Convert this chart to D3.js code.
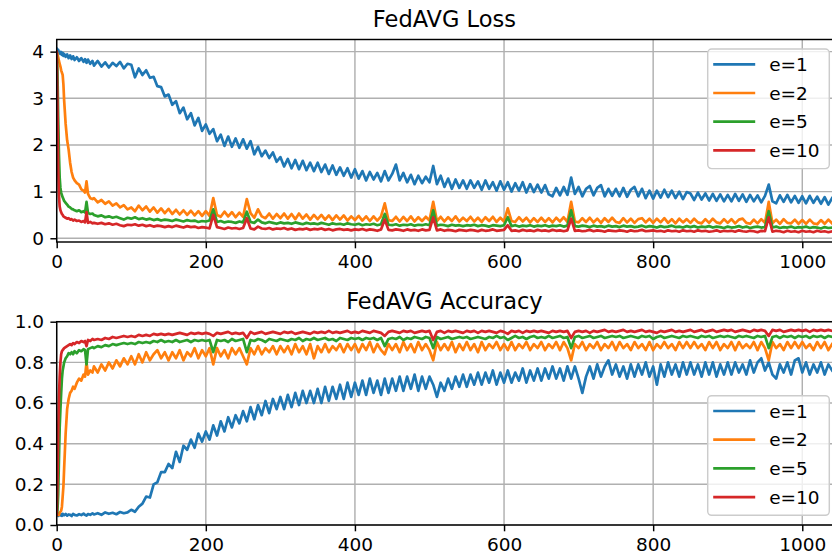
<!DOCTYPE html>
<html>
<head>
<meta charset="utf-8">
<script src="https://cdnjs.cloudflare.com/ajax/libs/d3/7.8.5/d3.min.js"></script>
<style>
    body { margin: 0; background: #ffffff; }
    svg { display: block; font-family: "DejaVu Sans", sans-serif; }
</style>
</head>
<body>
<div class="chart-wrapper"></div>
<script>
// rounds: dense at the start, then every 5th round
var roundsEarly = [0, 1, 2, 3, 4, 5, 6, 7, 8, 9, 10, 12, 14, 16, 18, 20, 22, 24, 27, 30, 33, 36, 38, 40, 42, 45, 48];
var rounds = roundsEarly.concat(d3.range(50, 1041, 5));

var seriesNames = ["e=1", "e=2", "e=5", "e=10"];
var seriesColors = ["#1f77b4", "#ff7f0e", "#2ca02c", "#d62728"];

var xTicks = [0, 200, 400, 600, 800, 1000];
var lossTicks = [0, 1, 2, 3, 4];
var accTicks = [0, 0.2, 0.4, 0.6, 0.8, 1.0];

// ---------------- loss ----------------
var lossE1 = [
    4.06, 4.02, 4.04, 3.97, 4.00, 3.95, 3.99, 3.93, 3.97, 3.91, 3.95, 3.89, 3.94, 3.86, 3.92, 3.84, 3.90, 3.82, 3.88, 3.80, 3.86, 3.78, 3.84, 3.76, 3.83, 3.74, 3.80,
    3.70, 3.80, 3.68, 3.77, 3.66, 3.76, 3.69, 3.78, 3.64, 3.74,
    3.72, 3.45, 3.64, 3.50, 3.60, 3.44, 3.46, 3.26, 3.24, 3.04,
    3.08, 2.86, 2.94, 2.68, 2.80, 2.55, 2.68, 2.42, 2.58, 2.30,
    2.44, 2.24, 2.34, 2.08, 2.22, 1.98, 2.18, 1.96, 2.14, 1.94,
    2.12, 1.92, 2.08, 1.80, 1.96, 1.76, 1.88, 1.72, 1.84, 1.64,
    1.74, 1.54, 1.70, 1.50, 1.68, 1.48, 1.66, 1.46, 1.62, 1.44,
    1.62, 1.42, 1.58, 1.38, 1.56, 1.36, 1.52, 1.34, 1.50, 1.30,
    1.48, 1.28, 1.44, 1.24, 1.42, 1.26, 1.40, 1.22, 1.44, 1.24,
    1.38, 1.58, 1.24, 1.40, 1.20, 1.36, 1.16, 1.34, 1.18, 1.32,
    1.20, 1.55, 1.16, 1.34, 1.10, 1.28, 1.06, 1.26, 1.08, 1.24,
    1.06, 1.24, 1.08, 1.22, 1.04, 1.24, 1.06, 1.20, 1.02, 1.22,
    1.04, 1.20, 1.00, 1.18, 1.02, 1.20, 0.98, 1.16, 0.99, 1.15,
    0.98, 1.14, 0.94, 0.90, 1.08, 0.92, 1.10, 0.93, 1.30, 0.95,
    1.10, 0.90, 1.06, 1.12, 0.92, 1.08, 1.14, 0.90, 1.06, 0.91,
    1.06, 0.90, 1.08, 0.89, 1.04, 1.10, 0.90, 1.06, 0.86, 1.02,
    0.85, 1.02, 0.87, 1.04, 0.88, 1.02, 0.86, 1.00, 0.84, 0.99,
    0.96, 0.82, 0.98, 0.83, 0.96, 0.81, 0.95, 0.80, 0.94, 0.79,
    0.93, 0.79, 0.95, 0.80, 0.94, 0.78, 0.93, 0.79, 0.92, 0.77,
    0.91, 1.15, 0.79, 0.75, 0.92, 0.78, 0.93, 0.77, 0.91, 0.76,
    0.90, 0.75, 0.91, 0.76, 0.89, 0.74, 0.88, 0.72, 0.86
];
var lossE2 = [
    4.00, 3.95, 3.88, 3.80, 3.74, 3.68, 3.60, 3.55, 3.50, 3.30, 2.95, 2.45, 2.10, 1.90, 1.62, 1.42, 1.30, 1.24, 1.18, 1.15, 1.05, 1.02, 0.98, 1.22, 0.95, 0.86, 0.84,
    0.86, 0.77, 0.82, 0.74, 0.79, 0.70, 0.75, 0.66, 0.71, 0.62,
    0.66, 0.58, 0.70, 0.60, 0.68, 0.57, 0.66, 0.55, 0.64, 0.54,
    0.63, 0.52, 0.61, 0.51, 0.60, 0.50, 0.59, 0.49, 0.58, 0.48,
    0.58, 0.48, 0.86, 0.50, 0.46, 0.57, 0.47, 0.56, 0.45, 0.55,
    0.46, 0.84, 0.54, 0.44, 0.62, 0.47, 0.43, 0.53, 0.42, 0.52,
    0.43, 0.53, 0.42, 0.52, 0.41, 0.53, 0.42, 0.51, 0.40, 0.50,
    0.41, 0.50, 0.40, 0.49, 0.39, 0.49, 0.40, 0.49, 0.38, 0.47,
    0.39, 0.48, 0.38, 0.47, 0.37, 0.47, 0.38, 0.47, 0.75, 0.39,
    0.37, 0.46, 0.36, 0.46, 0.37, 0.47, 0.36, 0.45, 0.37, 0.46,
    0.38, 0.78, 0.37, 0.46, 0.36, 0.45, 0.37, 0.47, 0.36, 0.44,
    0.37, 0.46, 0.36, 0.44, 0.35, 0.45, 0.37, 0.46, 0.35, 0.44,
    0.36, 0.64, 0.37, 0.35, 0.45, 0.36, 0.44, 0.34, 0.43, 0.35,
    0.44, 0.35, 0.43, 0.34, 0.44, 0.36, 0.45, 0.35, 0.78, 0.36,
    0.34, 0.43, 0.35, 0.44, 0.34, 0.42, 0.33, 0.43, 0.35, 0.44,
    0.35, 0.33, 0.43, 0.34, 0.42, 0.33, 0.41, 0.43, 0.34, 0.42,
    0.33, 0.42, 0.34, 0.43, 0.33, 0.41, 0.32, 0.42, 0.34, 0.41,
    0.33, 0.42, 0.34, 0.32, 0.41, 0.33, 0.42, 0.34, 0.32, 0.41,
    0.33, 0.41, 0.32, 0.40, 0.42, 0.33, 0.31, 0.40, 0.32, 0.41,
    0.33, 0.78, 0.32, 0.40, 0.31, 0.41, 0.33, 0.32, 0.40, 0.31,
    0.39, 0.31, 0.40, 0.32, 0.30, 0.39, 0.31, 0.40, 0.32
];
var lossE5 = [
    4.00, 3.60, 2.60, 1.80, 1.30, 1.08, 0.98, 0.92, 0.88, 0.84, 0.80, 0.76, 0.72, 0.68, 0.66, 0.63, 0.62, 0.60, 0.58, 0.60, 0.56, 0.58, 0.55, 0.78, 0.54, 0.52, 0.53,
    0.50, 0.47, 0.49, 0.45, 0.47, 0.44, 0.46, 0.43, 0.40, 0.44,
    0.42, 0.45, 0.41, 0.43, 0.40, 0.42, 0.39, 0.41, 0.38, 0.40,
    0.39, 0.37, 0.40, 0.38, 0.36, 0.39, 0.37, 0.38, 0.35, 0.37,
    0.36, 0.38, 0.62, 0.35, 0.37, 0.34, 0.36, 0.35, 0.33, 0.36,
    0.34, 0.57, 0.35, 0.33, 0.40, 0.34, 0.32, 0.35, 0.33, 0.31,
    0.34, 0.32, 0.33, 0.31, 0.34, 0.32, 0.30, 0.33, 0.31, 0.32,
    0.30, 0.33, 0.31, 0.29, 0.32, 0.30, 0.31, 0.29, 0.32, 0.30,
    0.29, 0.31, 0.28, 0.30, 0.29, 0.31, 0.28, 0.30, 0.52, 0.29,
    0.28, 0.30, 0.27, 0.29, 0.28, 0.30, 0.27, 0.29, 0.28, 0.30,
    0.28, 0.60, 0.27, 0.29, 0.28, 0.26, 0.29, 0.27, 0.28, 0.26,
    0.28, 0.27, 0.29, 0.26, 0.28, 0.27, 0.25, 0.28, 0.27, 0.26,
    0.28, 0.45, 0.26, 0.28, 0.25, 0.27, 0.26, 0.28, 0.25, 0.27,
    0.26, 0.28, 0.25, 0.27, 0.26, 0.28, 0.25, 0.27, 0.60, 0.26,
    0.25, 0.27, 0.26, 0.24, 0.27, 0.25, 0.26, 0.24, 0.27, 0.25,
    0.26, 0.24, 0.27, 0.25, 0.26, 0.24, 0.25, 0.27, 0.24, 0.26,
    0.25, 0.23, 0.26, 0.24, 0.25, 0.27, 0.24, 0.25, 0.23, 0.26,
    0.24, 0.26, 0.23, 0.25, 0.24, 0.26, 0.23, 0.25, 0.24, 0.22,
    0.25, 0.23, 0.24, 0.26, 0.23, 0.25, 0.22, 0.24, 0.25, 0.23,
    0.24, 0.58, 0.23, 0.25, 0.22, 0.24, 0.23, 0.25, 0.22, 0.24,
    0.23, 0.25, 0.22, 0.24, 0.23, 0.21, 0.24, 0.22, 0.23
];
var lossE10 = [
    4.00, 2.90, 1.50, 0.92, 0.68, 0.60, 0.56, 0.52, 0.50, 0.47, 0.46, 0.44, 0.42, 0.43, 0.40, 0.41, 0.38, 0.40, 0.37, 0.38, 0.35, 0.37, 0.34, 0.56, 0.33, 0.35, 0.32,
    0.33, 0.31, 0.33, 0.30, 0.32, 0.29, 0.31, 0.28, 0.26, 0.29,
    0.28, 0.30, 0.27, 0.29, 0.26, 0.28, 0.25, 0.27, 0.26, 0.24,
    0.26, 0.24, 0.27, 0.25, 0.23, 0.26, 0.24, 0.25, 0.22, 0.24,
    0.23, 0.21, 0.50, 0.24, 0.22, 0.20, 0.23, 0.21, 0.22, 0.20,
    0.22, 0.43, 0.21, 0.19, 0.25, 0.21, 0.20, 0.22, 0.19, 0.21,
    0.20, 0.22, 0.19, 0.21, 0.18, 0.20, 0.19, 0.21, 0.18, 0.20,
    0.19, 0.21, 0.18, 0.20, 0.17, 0.19, 0.20, 0.18, 0.19, 0.17,
    0.19, 0.18, 0.20, 0.17, 0.19, 0.18, 0.16, 0.19, 0.40, 0.18,
    0.17, 0.19, 0.18, 0.16, 0.19, 0.17, 0.18, 0.16, 0.19, 0.17,
    0.18, 0.45, 0.17, 0.19, 0.16, 0.18, 0.17, 0.15, 0.18, 0.17,
    0.16, 0.18, 0.17, 0.15, 0.18, 0.16, 0.17, 0.19, 0.16, 0.17,
    0.18, 0.28, 0.16, 0.17, 0.15, 0.18, 0.16, 0.17, 0.15, 0.18,
    0.16, 0.17, 0.15, 0.18, 0.16, 0.17, 0.15, 0.17, 0.42, 0.16,
    0.17, 0.15, 0.16, 0.18, 0.15, 0.17, 0.16, 0.14, 0.17, 0.16,
    0.15, 0.17, 0.16, 0.14, 0.17, 0.15, 0.16, 0.18, 0.15, 0.16,
    0.17, 0.15, 0.16, 0.14, 0.17, 0.15, 0.16, 0.14, 0.17, 0.15,
    0.16, 0.14, 0.17, 0.15, 0.16, 0.14, 0.15, 0.17, 0.14, 0.16,
    0.15, 0.16, 0.14, 0.17, 0.15, 0.14, 0.16, 0.15, 0.13, 0.16,
    0.15, 0.45, 0.14, 0.16, 0.15, 0.13, 0.16, 0.14, 0.15, 0.13,
    0.16, 0.14, 0.15, 0.13, 0.16, 0.14, 0.15, 0.13, 0.15
];

// ---------------- accuracy ----------------
var accE1 = [
    0.050, 0.050, 0.045, 0.055, 0.050, 0.048, 0.052, 0.045, 0.055, 0.050, 0.048, 0.054, 0.046, 0.052, 0.050, 0.044, 0.055, 0.050, 0.047, 0.053, 0.049, 0.056, 0.050, 0.046, 0.054, 0.050, 0.057,
    0.052, 0.058, 0.050, 0.062, 0.055, 0.060, 0.053, 0.064, 0.058, 0.062,
    0.075, 0.065, 0.090, 0.105, 0.140, 0.135, 0.200, 0.210, 0.260, 0.260,
    0.30, 0.28, 0.36, 0.31, 0.39, 0.37, 0.42, 0.38, 0.45, 0.41,
    0.46, 0.42, 0.49, 0.44, 0.51, 0.46, 0.53, 0.48, 0.54, 0.50,
    0.56, 0.51, 0.58, 0.52, 0.59, 0.54, 0.61, 0.55, 0.62, 0.57,
    0.63, 0.57, 0.64, 0.58, 0.65, 0.59, 0.66, 0.60, 0.66, 0.60,
    0.67, 0.60, 0.68, 0.61, 0.68, 0.62, 0.69, 0.62, 0.70, 0.63,
    0.70, 0.64, 0.71, 0.64, 0.72, 0.65, 0.71, 0.64, 0.72, 0.65,
    0.72, 0.66, 0.73, 0.66, 0.73, 0.67, 0.74, 0.66, 0.73, 0.67,
    0.73, 0.69, 0.63, 0.70, 0.66, 0.72, 0.67, 0.73, 0.68, 0.74,
    0.68, 0.74, 0.69, 0.75, 0.69, 0.75, 0.70, 0.76, 0.69, 0.75,
    0.70, 0.76, 0.70, 0.75, 0.71, 0.77, 0.70, 0.76, 0.71, 0.77,
    0.71, 0.77, 0.72, 0.78, 0.72, 0.77, 0.71, 0.78, 0.72, 0.78,
    0.72, 0.65, 0.73, 0.78, 0.72, 0.79, 0.73, 0.78, 0.81, 0.74,
    0.79, 0.73, 0.78, 0.72, 0.79, 0.73, 0.79, 0.74, 0.80, 0.73,
    0.78, 0.69, 0.79, 0.73, 0.80, 0.74, 0.79, 0.73, 0.80, 0.74,
    0.80, 0.74, 0.79, 0.73, 0.80, 0.74, 0.80, 0.73, 0.79, 0.74,
    0.80, 0.74, 0.80, 0.75, 0.79, 0.74, 0.81, 0.75, 0.80, 0.82,
    0.76, 0.80, 0.74, 0.72, 0.79, 0.75, 0.80, 0.74, 0.81, 0.82,
    0.75, 0.80, 0.74, 0.79, 0.75, 0.80, 0.74, 0.79, 0.76
];
var accE2 = [
    0.050, 0.050, 0.055, 0.050, 0.060, 0.065, 0.070, 0.090, 0.140, 0.190, 0.280, 0.450, 0.570, 0.620, 0.650, 0.660, 0.680, 0.670, 0.700, 0.720, 0.710, 0.740, 0.730, 0.800, 0.740, 0.760, 0.750,
    0.78, 0.75, 0.79, 0.76, 0.80, 0.77, 0.81, 0.78, 0.82, 0.79,
    0.83, 0.79, 0.84, 0.80, 0.85, 0.81, 0.84, 0.86, 0.82, 0.85,
    0.81, 0.85, 0.82, 0.86, 0.81, 0.85, 0.83, 0.87, 0.82, 0.86,
    0.83, 0.87, 0.79, 0.87, 0.83, 0.86, 0.82, 0.87, 0.84, 0.87,
    0.83, 0.79, 0.87, 0.84, 0.88, 0.84, 0.87, 0.85, 0.88, 0.84,
    0.88, 0.85, 0.88, 0.84, 0.89, 0.85, 0.88, 0.84, 0.89, 0.82,
    0.88, 0.85, 0.89, 0.85, 0.88, 0.86, 0.89, 0.85, 0.89, 0.86,
    0.89, 0.85, 0.89, 0.86, 0.90, 0.85, 0.89, 0.86, 0.84, 0.89,
    0.86, 0.89, 0.85, 0.90, 0.86, 0.89, 0.85, 0.90, 0.86, 0.89,
    0.86, 0.81, 0.90, 0.86, 0.89, 0.86, 0.90, 0.85, 0.89, 0.86,
    0.90, 0.86, 0.89, 0.85, 0.90, 0.86, 0.89, 0.87, 0.90, 0.86,
    0.89, 0.86, 0.90, 0.86, 0.89, 0.87, 0.90, 0.86, 0.89, 0.87,
    0.90, 0.86, 0.89, 0.87, 0.90, 0.86, 0.90, 0.87, 0.81, 0.89,
    0.87, 0.90, 0.86, 0.89, 0.87, 0.90, 0.86, 0.89, 0.87, 0.90,
    0.86, 0.90, 0.87, 0.89, 0.86, 0.90, 0.87, 0.89, 0.86, 0.90,
    0.86, 0.89, 0.87, 0.90, 0.87, 0.89, 0.86, 0.90, 0.87, 0.90,
    0.87, 0.90, 0.87, 0.89, 0.86, 0.90, 0.87, 0.90, 0.86, 0.89,
    0.87, 0.90, 0.86, 0.90, 0.87, 0.89, 0.87, 0.90, 0.86, 0.90,
    0.87, 0.81, 0.90, 0.87, 0.89, 0.86, 0.90, 0.87, 0.90, 0.87,
    0.90, 0.87, 0.89, 0.86, 0.90, 0.87, 0.90, 0.86, 0.89
];
var accE5 = [
    0.050, 0.070, 0.150, 0.320, 0.480, 0.570, 0.650, 0.720, 0.760, 0.780, 0.800, 0.820, 0.830, 0.845, 0.840, 0.850, 0.840, 0.855, 0.845, 0.860, 0.855, 0.865, 0.860, 0.790, 0.865, 0.870, 0.875,
    0.870, 0.880, 0.875, 0.885, 0.880, 0.890, 0.885, 0.890, 0.895, 0.890,
    0.895, 0.890, 0.900, 0.895, 0.900, 0.895, 0.905, 0.900, 0.910, 0.900,
    0.905, 0.900, 0.910, 0.900, 0.905, 0.910, 0.900, 0.910, 0.905, 0.910,
    0.905, 0.910, 0.850, 0.910, 0.905, 0.910, 0.900, 0.915, 0.905, 0.910,
    0.915, 0.850, 0.910, 0.905, 0.915, 0.910, 0.900, 0.915, 0.910, 0.905,
    0.915, 0.910, 0.905, 0.915, 0.910, 0.920, 0.905, 0.915, 0.910, 0.920,
    0.910, 0.915, 0.920, 0.910, 0.915, 0.905, 0.920, 0.915, 0.910, 0.920,
    0.915, 0.920, 0.910, 0.920, 0.915, 0.920, 0.910, 0.920, 0.880, 0.915,
    0.920, 0.915, 0.925, 0.910, 0.920, 0.915, 0.925, 0.920, 0.915, 0.925,
    0.920, 0.870, 0.925, 0.915, 0.920, 0.925, 0.915, 0.920, 0.925, 0.920,
    0.925, 0.915, 0.920, 0.925, 0.920, 0.915, 0.925, 0.920, 0.930, 0.920,
    0.925, 0.910, 0.920, 0.930, 0.920, 0.925, 0.915, 0.925, 0.930, 0.920,
    0.925, 0.920, 0.930, 0.920, 0.925, 0.930, 0.920, 0.925, 0.870, 0.925,
    0.930, 0.920, 0.925, 0.930, 0.920, 0.925, 0.930, 0.920, 0.925, 0.930,
    0.925, 0.930, 0.920, 0.925, 0.930, 0.925, 0.920, 0.930, 0.925, 0.930,
    0.915, 0.925, 0.930, 0.920, 0.925, 0.930, 0.925, 0.920, 0.930, 0.925,
    0.930, 0.925, 0.920, 0.930, 0.925, 0.930, 0.920, 0.925, 0.930, 0.925,
    0.930, 0.925, 0.920, 0.930, 0.925, 0.930, 0.925, 0.920, 0.930, 0.925,
    0.930, 0.870, 0.925, 0.930, 0.920, 0.930, 0.925, 0.930, 0.920, 0.930,
    0.925, 0.930, 0.920, 0.930, 0.925, 0.930, 0.920, 0.930, 0.925
];
var accE10 = [
    0.050, 0.200, 0.450, 0.630, 0.730, 0.800, 0.840, 0.855, 0.860, 0.865, 0.870, 0.875, 0.880, 0.885, 0.890, 0.885, 0.895, 0.890, 0.900, 0.895, 0.905, 0.900, 0.905, 0.880, 0.910, 0.905, 0.915,
    0.910, 0.915, 0.910, 0.920, 0.915, 0.925, 0.920, 0.925, 0.930, 0.925,
    0.930, 0.925, 0.935, 0.930, 0.935, 0.930, 0.940, 0.935, 0.940, 0.935,
    0.940, 0.935, 0.940, 0.945, 0.940, 0.935, 0.945, 0.940, 0.945, 0.940,
    0.945, 0.940, 0.930, 0.945, 0.940, 0.945, 0.950, 0.940, 0.945, 0.940,
    0.945, 0.920, 0.950, 0.940, 0.945, 0.950, 0.940, 0.945, 0.950, 0.945,
    0.940, 0.950, 0.945, 0.950, 0.940, 0.945, 0.950, 0.945, 0.940, 0.950,
    0.945, 0.950, 0.945, 0.955, 0.945, 0.950, 0.945, 0.950, 0.955, 0.945,
    0.950, 0.945, 0.955, 0.950, 0.945, 0.955, 0.950, 0.945, 0.930, 0.950,
    0.955, 0.950, 0.945, 0.955, 0.950, 0.955, 0.945, 0.950, 0.955, 0.950,
    0.955, 0.910, 0.950, 0.955, 0.945, 0.955, 0.950, 0.955, 0.950, 0.945,
    0.955, 0.950, 0.955, 0.945, 0.955, 0.950, 0.955, 0.950, 0.945, 0.955,
    0.950, 0.940, 0.955, 0.950, 0.955, 0.945, 0.955, 0.950, 0.955, 0.950,
    0.955, 0.950, 0.945, 0.955, 0.950, 0.955, 0.950, 0.955, 0.920, 0.950,
    0.955, 0.950, 0.955, 0.945, 0.955, 0.950, 0.955, 0.960, 0.950, 0.955,
    0.950, 0.955, 0.960, 0.950, 0.955, 0.950, 0.955, 0.960, 0.950, 0.955,
    0.950, 0.945, 0.955, 0.950, 0.955, 0.960, 0.950, 0.955, 0.950, 0.955,
    0.960, 0.950, 0.955, 0.960, 0.950, 0.955, 0.960, 0.950, 0.955, 0.960,
    0.955, 0.960, 0.950, 0.955, 0.960, 0.955, 0.950, 0.960, 0.955, 0.960,
    0.955, 0.930, 0.960, 0.955, 0.960, 0.950, 0.955, 0.960, 0.955, 0.960,
    0.955, 0.960, 0.950, 0.960, 0.955, 0.960, 0.955, 0.960, 0.955
];

var lossSeries = [lossE1, lossE2, lossE5, lossE10];
var accSeries = [accE1, accE2, accE5, accE10];

//------------------------------------------------------------------
var svgWidth = 832, svgHeight = 559;
var tickFont = 18.5, titleFont = 22.5;
var tickLen = 6.3, tickPad = 6.3;
var spineW = 1.45, lineW = 2.7;

var svg = d3.select(".chart-wrapper").append("svg")
        .attr("width", svgWidth)
        .attr("height", svgHeight);

var defs = svg.append("defs");

var x = d3.scaleLinear().domain([0, 1040]).range([56.7, 832.1]);

function drawPanel(opts) {
    var y = d3.scaleLinear().domain(opts.yDomain).range([opts.bottom, opts.top]);
    var g = svg.append("g").attr("class", "panel-" + opts.id);

    defs.append("clipPath").attr("id", "clip-" + opts.id)
            .append("rect")
            .attr("x", x.range()[0])
            .attr("y", opts.top)
            .attr("width", x.range()[1] - x.range()[0])
            .attr("height", opts.bottom - opts.top);

    // grid
    g.append("g").selectAll("line.gx").data(xTicks).enter().append("line")
            .attr("x1", function (d) { return x(d); })
            .attr("x2", function (d) { return x(d); })
            .attr("y1", opts.top).attr("y2", opts.bottom)
            .style("stroke", "#b0b0b0").style("stroke-width", 1.45);
    g.append("g").selectAll("line.gy").data(opts.yTicks).enter().append("line")
            .attr("x1", x.range()[0]).attr("x2", x.range()[1])
            .attr("y1", function (d) { return y(d); })
            .attr("y2", function (d) { return y(d); })
            .style("stroke", "#b0b0b0").style("stroke-width", 1.45);

    // lines
    var line = d3.line()
            .x(function (d, i) { return x(rounds[i]); })
            .y(function (d) { return y(d); });
    g.append("g").attr("clip-path", "url(#clip-" + opts.id + ")")
            .selectAll("path").data(opts.series).enter().append("path")
            .attr("d", line)
            .style("fill", "none")
            .style("stroke", function (d, i) { return seriesColors[i]; })
            .style("stroke-width", lineW)
            .style("stroke-linejoin", "round")
            .style("stroke-linecap", "square");

    // axes
    var xAxis = g.append("g")
            .attr("transform", "translate(0," + opts.bottom + ")")
            .call(d3.axisBottom(x).tickValues(xTicks).tickFormat(d3.format("d"))
                    .tickSize(tickLen).tickPadding(tickPad).tickSizeOuter(0));
    var yAxis = g.append("g")
            .attr("transform", "translate(" + x.range()[0] + ",0)")
            .call(d3.axisLeft(y).tickValues(opts.yTicks).tickFormat(opts.yFormat)
                    .tickSize(tickLen).tickPadding(tickPad).tickSizeOuter(0));
    [xAxis, yAxis].forEach(function (a) {
        a.select(".domain").remove();
        a.selectAll(".tick line").style("stroke", "#000").style("stroke-width", spineW);
        a.selectAll(".tick text").style("font-family", "DejaVu Sans").style("font-size", tickFont + "px").style("fill", "#000");
    });

    // spines
    g.append("rect")
            .attr("x", x.range()[0]).attr("y", opts.top)
            .attr("width", x.range()[1] - x.range()[0] + 2)
            .attr("height", opts.bottom - opts.top)
            .style("fill", "none").style("stroke", "#000").style("stroke-width", spineW);

    // title
    g.append("text")
            .attr("x", (x.range()[0] + x.range()[1]) / 2)
            .attr("y", opts.titleY)
            .attr("text-anchor", "middle")
            .style("font-size", titleFont + "px")
            .style("fill", "#000")
            .text(opts.title);

    // legend
    var lg = g.append("g").attr("transform", "translate(707.7," + opts.legendTop + ")");
    lg.append("rect")
            .attr("width", 121.6).attr("height", 119.6)
            .attr("rx", 4).attr("ry", 4)
            .style("fill", "#ffffff").style("fill-opacity", 0.8)
            .style("stroke", "#cccccc").style("stroke-width", 1.45);
    var item = lg.selectAll("g.item").data(seriesNames).enter().append("g")
            .attr("transform", function (d, i) { return "translate(0," + (15.3 + i * 28.7) + ")"; });
    item.append("line")
            .attr("x1", 5.5).attr("x2", 47.5)
            .style("stroke", function (d, i) { return seriesColors[i]; })
            .style("stroke-width", lineW);
    item.append("text")
            .attr("x", 61.5).attr("dy", "0.36em")
            .style("font-size", tickFont + "px")
            .text(function (d) { return d; });
}

drawPanel({
    id: "loss", title: "FedAVG Loss", titleY: 26.5,
    top: 39.5, bottom: 242, yDomain: [-0.08, 4.26],
    yTicks: lossTicks, yFormat: d3.format("d"),
    series: lossSeries, legendTop: 49
});
drawPanel({
    id: "acc", title: "FedAVG Accuracy", titleY: 309.3,
    top: 321.7, bottom: 525, yDomain: [0, 1],
    yTicks: accTicks, yFormat: d3.format(".1f"),
    series: accSeries, legendTop: 395.7
});
</script>
</body>
</html>
